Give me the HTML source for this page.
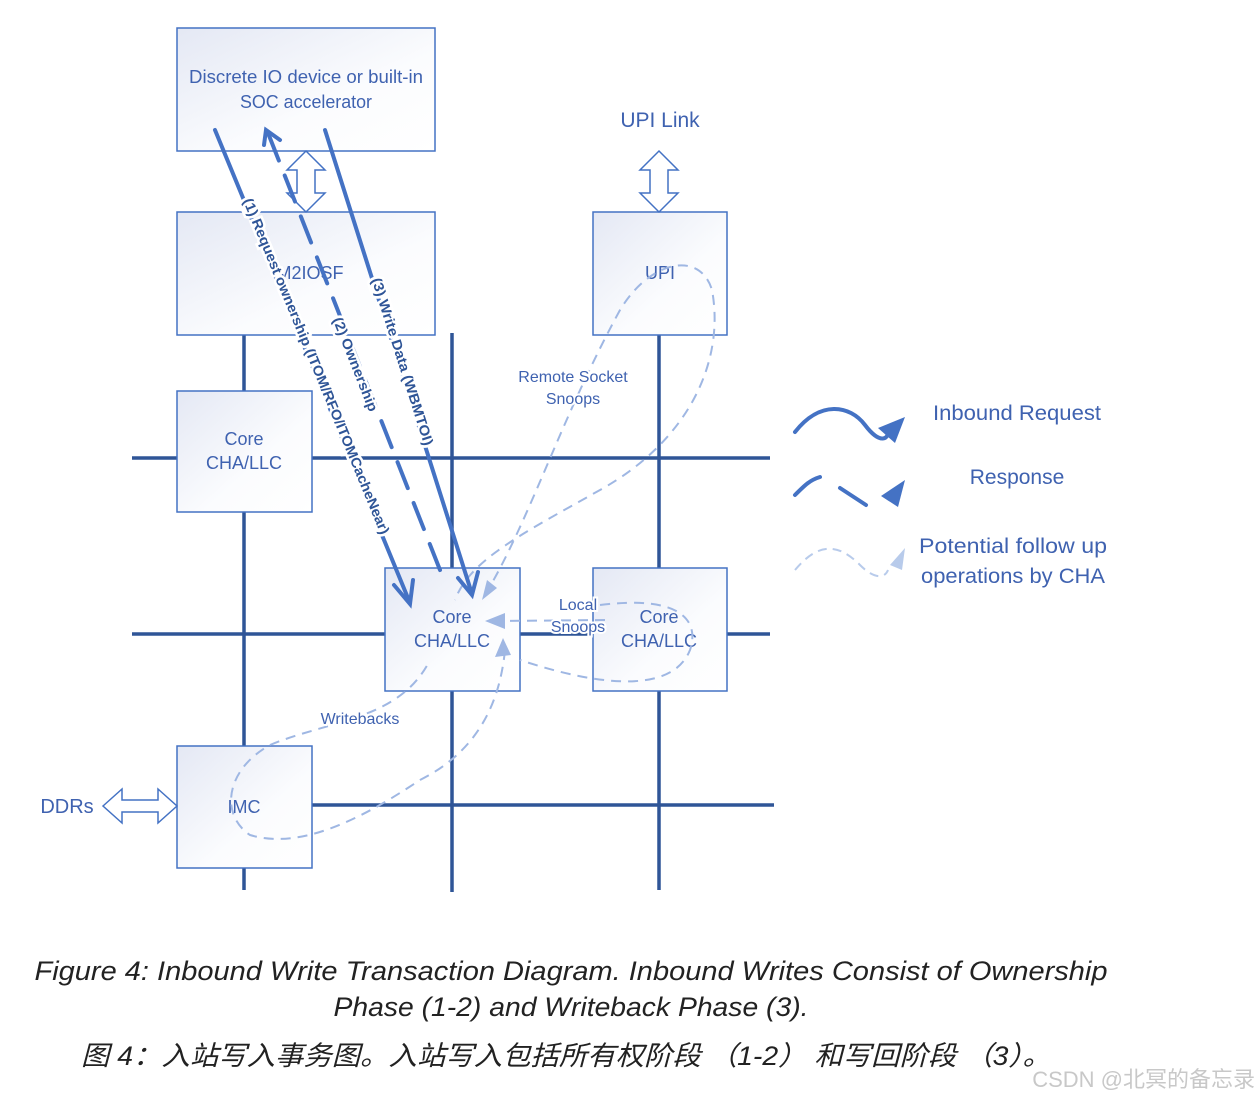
<!DOCTYPE html>
<html><head><meta charset="utf-8"><style>
html,body{margin:0;padding:0;background:#fff;}
svg{display:block;}
text{font-family:"Liberation Sans","DejaVu Sans",sans-serif;}
</style></head><body>
<svg width="1260" height="1100" viewBox="0 0 1260 1100" xmlns="http://www.w3.org/2000/svg">
<defs>
<linearGradient id="g" x1="0" y1="0" x2="1" y2="1">
<stop offset="0" stop-color="#e4e8f4"/><stop offset="0.6" stop-color="#fbfcfe"/><stop offset="1" stop-color="#ffffff"/>
</linearGradient>
</defs>
<g stroke="#2f5597" stroke-width="3.5" fill="none">
<line x1="132" y1="458" x2="770" y2="458"/>
<line x1="132" y1="634" x2="770" y2="634"/>
<line x1="312" y1="805" x2="774" y2="805"/>
<line x1="244" y1="335" x2="244" y2="890"/>
<line x1="452" y1="333" x2="452" y2="892"/>
<line x1="659" y1="335" x2="659" y2="890"/>
</g>
<g fill="url(#g)" stroke="#4472c4" stroke-width="1.5">
<rect x="177" y="28" width="258" height="123"/>
<rect x="177" y="212" width="258" height="123"/>
<rect x="593" y="212" width="134" height="123"/>
<rect x="177" y="391" width="135" height="121"/>
<rect x="385" y="568" width="135" height="123"/>
<rect x="593" y="568" width="134" height="123"/>
<rect x="177" y="746" width="135" height="122"/>
</g>
<g fill="#3f62b0" font-size="18" text-anchor="middle">
<text x="306" y="83" textLength="234" lengthAdjust="spacingAndGlyphs">Discrete IO device or built-in</text>
<text x="306" y="108" textLength="132" lengthAdjust="spacingAndGlyphs">SOC accelerator</text>
<text x="310" y="279">M2IOSF</text>
<text x="660" y="279">UPI</text>
<text x="244" y="445">Core</text>
<text x="244" y="469">CHA/LLC</text>
<text x="452" y="623">Core</text>
<text x="452" y="647">CHA/LLC</text>
<text x="659" y="623">Core</text>
<text x="659" y="647">CHA/LLC</text>
<text x="244" y="813">IMC</text>
<text x="67" y="813" font-size="20">DDRs</text>
<text x="660" y="127" font-size="21">UPI Link</text>
<text x="1017" y="420" font-size="21" textLength="168" lengthAdjust="spacingAndGlyphs">Inbound Request</text>
<text x="1017" y="484" font-size="21">Response</text>
<text x="1013" y="553" font-size="21" textLength="188" lengthAdjust="spacingAndGlyphs">Potential follow up</text>
<text x="1013" y="583" font-size="21" textLength="184" lengthAdjust="spacingAndGlyphs">operations by CHA</text>
</g>
<g fill="#fff" stroke="#4472c4" stroke-width="1.5">
<path d="M306,151 L325,170 L315,170 L315,193 L325,193 L306,212 L287,193 L297,193 L297,170 L287,170 Z"/>
<path d="M659,151 L678,170 L668,170 L668,193 L678,193 L659,212 L640,193 L650,193 L650,170 L640,170 Z"/>
<path d="M103,806 L122,789 L122,800 L158,800 L158,789 L177,806 L158,823 L158,812 L122,812 L122,823 Z"/>
</g>
<g fill="none" stroke="#9fb7e3" stroke-width="2" stroke-dasharray="10,7">
<path d="M485,595 C530,520 560,420 620,310 C650,260 700,250 712,290 C725,360 690,440 600,490 C520,535 470,560 455,600"/>
<path d="M600,605 C680,595 700,620 690,650 C670,700 580,680 520,660"/>
<path d="M605,620 L500,621"/>
<path d="M505,650 C500,700 480,750 420,780 C360,820 300,850 250,835 C220,815 225,770 270,745 C330,720 400,720 430,660"/>
</g>
<g fill="#9fb7e3">
<polygon points="482,600 487,580 497,588"/>
<polygon points="485,621 505,613 505,629"/>
<polygon points="503,638 495,657 511,655"/>
</g>
<g stroke="#4472c4" stroke-width="4" fill="none" stroke-linecap="round">
<line x1="215" y1="130" x2="410" y2="603"/>
<polyline points="394,585 410,604 413,580"/>
<line x1="325" y1="130" x2="472" y2="594"/>
<polyline points="458,578 472,595 478,572"/>
<line x1="440" y1="570" x2="268" y2="133" stroke-dasharray="28,16"/>
<polyline points="264,145 266,130 280,140"/>
</g>
<g font-size="14" font-weight="bold" fill="#2f5597" stroke="#fff" stroke-width="5" paint-order="stroke">
<text transform="translate(312,368) rotate(67.6)" text-anchor="middle" textLength="362" lengthAdjust="spacingAndGlyphs">(1) Request ownership (ITOM/RFO/ITOMCacheNear)</text>
<text transform="translate(351,366) rotate(68.5)" text-anchor="middle" textLength="100" lengthAdjust="spacingAndGlyphs">(2) Ownership</text>
<text transform="translate(398,363) rotate(72.4)" text-anchor="middle" textLength="175" lengthAdjust="spacingAndGlyphs">(3) Write Data (WBMTOI)</text>
</g>
<g font-size="16" fill="#3f62b0" text-anchor="middle" stroke="#fff" stroke-width="4" paint-order="stroke">
<text x="573" y="382">Remote Socket</text>
<text x="573" y="404">Snoops</text>
<text x="578" y="610">Local</text>
<text x="578" y="632">Snoops</text>
<text x="360" y="724">Writebacks</text>
</g>
<g fill="none" stroke="#4472c4" stroke-width="4" stroke-linecap="round">
<path d="M795,432 C820,400 850,405 865,425 C880,445 890,440 888,428"/>
<path d="M795,495 C805,485 810,480 820,477"/>
<path d="M840,488 L866,505"/>
</g>
<polygon points="905,417 878,428 895,443" fill="#4472c4"/>
<polygon points="905,480 881,496 898,507" fill="#4472c4"/>
<path d="M795,570 C820,540 840,545 860,565 C875,580 885,578 888,570" fill="none" stroke="#b8cbeb" stroke-width="2" stroke-dasharray="9,6"/>
<polygon points="905,548 890,565 902,570" fill="#b8cbeb"/>
<g font-style="italic" fill="#222" font-size="27" text-anchor="middle">
<text x="571" y="980" textLength="1073" lengthAdjust="spacingAndGlyphs">Figure 4:  Inbound Write Transaction Diagram. Inbound Writes Consist of Ownership</text>
<text x="571" y="1016" textLength="475" lengthAdjust="spacingAndGlyphs">Phase (1-2) and Writeback Phase (3).</text>
<text x="566" y="1065" textLength="970" lengthAdjust="spacingAndGlyphs" style="font-family:'Liberation Sans','Noto Sans CJK SC',sans-serif">图 4：入站写入事务图。入站写入包括所有权阶段 （1-2） 和写回阶段 （3）。</text>
</g>
<text x="1255" y="1087" text-anchor="end" font-size="22" fill="#c8c8c8" style="font-family:'Liberation Sans','Noto Sans CJK SC',sans-serif">CSDN @北冥的备忘录</text>
</svg>
</body></html>
